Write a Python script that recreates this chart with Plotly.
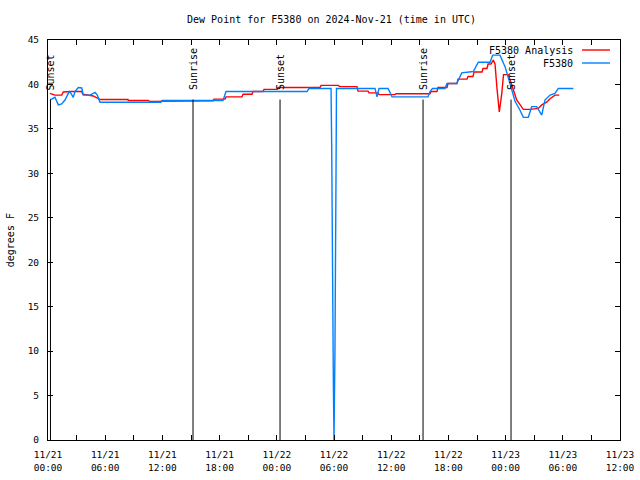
import plotly.graph_objects as go
import pandas as pd

BASE = pd.Timestamp("2024-11-21 00:00")

# Observations (F5380) : hours after 11/21 00:00 UTC, dew point degF
obs_hours = [0.2, 0.3, 0.73, 1.08, 1.44, 1.78, 2.23, 2.41, 2.65, 2.83,
             3.18, 3.54, 3.70, 4.41, 4.93, 5.17, 5.45, 11.85, 11.96, 18.36,
             18.67, 27.17, 27.38, 29.69, 29.76, 29.82, 29.93, 30.0, 30.1, 30.21,
             30.26, 34.3, 34.51, 34.72, 35.67, 36.09, 39.86, 40.07, 40.33, 41.64,
             41.85, 42.87, 43.4, 44.61, 45.14, 46.37, 46.65, 47.41, 47.94, 48.46,
             48.99, 49.51, 49.86, 50.38, 50.74, 51.26, 51.79, 52.13, 52.66, 53.18,
             53.53, 55.1]
obs_vals = [38.3, 38.3, 38.55, 37.7, 37.8, 38.25, 39.2, 39.0, 38.55, 39.2,
            39.65, 39.6, 38.8, 38.8, 39.1, 38.8, 38.0, 38.0, 38.2, 38.2,
            39.2, 39.2, 39.55, 39.55, 33.0, 19.9, 6.75, 0.0, 9.9, 29.6,
            39.55, 39.55, 38.6, 39.55, 39.55, 38.6, 38.6, 39.2, 39.55, 39.55,
            40.1, 40.1, 41.3, 41.45, 42.5, 42.5, 43.3, 43.3, 42.0, 40.1,
            38.1, 37.1, 36.3, 36.3, 37.5, 37.5, 36.55, 38.25, 38.8, 39.0,
            39.55, 39.55]

# Analysis (F5380 Analysis)
ana_hours = [0.2, 0.42, 0.73, 1.44, 1.6, 2.49, 3.54, 3.64, 4.41, 4.75,
             5.45, 8.39, 8.42, 10.49, 10.7, 14.48, 14.58, 17.31, 17.41, 18.57,
             18.67, 20.35, 20.46, 21.4, 21.5, 22.55, 22.66, 24.02, 24.13, 28.53,
             28.64, 30.42, 30.63, 32.41, 32.52, 33.57, 33.67, 34.62, 34.72, 36.4,
             36.5, 40.07, 40.18, 40.8, 40.91, 41.85, 41.96, 42.9, 43.0, 43.95,
             44.06, 44.58, 44.69, 45.53, 45.63, 46.05, 46.16, 46.47, 46.71, 46.89,
             47.1, 47.34, 47.6, 47.78, 48.29, 48.46, 48.81, 49.16, 49.86, 50.56,
             51.43, 51.79, 52.31, 52.66, 53.18, 53.63]
ana_vals = [39.0, 38.9, 38.8, 38.8, 39.15, 39.2, 39.2, 38.9, 38.8, 38.7,
            38.3, 38.3, 38.2, 38.2, 38.1, 38.1, 38.15, 38.15, 38.35, 38.35,
            38.6, 38.6, 38.9, 38.9, 39.2, 39.2, 39.45, 39.45, 39.65, 39.65,
            39.9, 39.9, 39.75, 39.75, 39.25, 39.25, 39.05, 39.05, 38.85, 38.85,
            38.95, 38.95, 39.2, 39.2, 39.65, 39.65, 40.1, 40.1, 40.6, 40.6,
            40.9, 40.9, 41.4, 41.4, 41.8, 41.8, 42.3, 42.3, 42.75, 42.3,
            39.5, 36.9, 39.0, 41.1, 41.1, 40.6, 39.4, 38.25, 37.2, 37.2,
            37.3, 37.7, 38.0, 38.4, 38.8, 38.8]

# Sun events
event_hours = [0.26, 15.21, 24.34, 39.34, 48.57]
event_labels = ["Sunset", "Sunrise", "Sunset", "Sunrise", "Sunset"]
event_line_top = 38.3

# Axis ticks
tick_hours = list(range(0, 61, 3))
tick_labels = []
for h in tick_hours:
    if h % 6 == 0:
        t = BASE + pd.Timedelta(hours=h)
        tick_labels.append(t.strftime("%m/%d") + "<br>" + t.strftime("%H:%M"))
    else:
        tick_labels.append("")
y_ticks = list(range(0, 46, 5))

series_names = ["F5380 Analysis", "F5380"]
series_colors = ["#ff0000", "#0080ff"]


def to_time(hours):
    return [BASE + pd.Timedelta(hours=h) for h in hours]


FONT = "DejaVu Sans Mono"

fig = go.Figure()
fig.add_trace(go.Scatter(x=to_time(ana_hours), y=ana_vals, mode="lines",
                         line=dict(color=series_colors[0], width=1.4),
                         name=series_names[0], showlegend=False))
fig.add_trace(go.Scatter(x=to_time(obs_hours), y=obs_vals, mode="lines",
                         line=dict(color=series_colors[1], width=1.4),
                         name=series_names[1], showlegend=False))

shapes = []
annotations = []
for h, lab in zip(event_hours, event_labels):
    t = BASE + pd.Timedelta(hours=h)
    shapes.append(dict(type="line", xref="x", yref="y", x0=t, x1=t,
                       y0=0, y1=event_line_top,
                       line=dict(color="black", width=1)))
    annotations.append(dict(x=t, y=39.15, xref="x", yref="y", text=lab,
                            textangle=-90, showarrow=False,
                            xanchor="center", yanchor="bottom",
                            font=dict(family=FONT, size=10, color="black")))

# manual gnuplot-style legend
leg_y = [0.975, 0.9425]
for name, col, yy in zip(series_names, series_colors, leg_y):
    annotations.append(dict(x=0.921, y=yy, xref="paper", yref="paper",
                            text=name, showarrow=False, xanchor="right",
                            yanchor="middle",
                            font=dict(family=FONT, size=10, color="black")))
    shapes.append(dict(type="line", xref="paper", yref="paper",
                       x0=0.9336, x1=0.9825, y0=yy, y1=yy,
                       line=dict(color=col, width=1.4)))

annotations.append(dict(x=-0.066, y=0.5, xref="paper", yref="paper",
                        text="degrees F", textangle=-90, showarrow=False,
                        xanchor="center", yanchor="middle",
                        font=dict(family=FONT, size=10, color="black")))

fig.update_layout(
    width=640, height=480,
    margin=dict(l=48, r=20, t=40, b=40, autoexpand=False),
    paper_bgcolor="white", plot_bgcolor="white",
    title=dict(text="Dew Point for F5380 on 2024-Nov-21 (time in UTC)",
               x=0.518, xanchor="center", y=0.96, yanchor="middle",
               font=dict(family=FONT, size=10, color="black")),
    shapes=shapes, annotations=annotations,
    showlegend=False,
)
fig.update_xaxes(
    type="date", automargin=False,
    range=[BASE, BASE + pd.Timedelta(hours=60)],
    tickmode="array", tickvals=to_time(tick_hours), ticktext=tick_labels,
    ticks="inside", ticklen=5, tickcolor="black", tickwidth=1,
    showline=True, linecolor="black", linewidth=1, mirror="ticks",
    showgrid=False, zeroline=False,
    tickfont=dict(family=FONT, size=9.5, color="black"),
    ticklabelstandoff=6,
)
fig.update_yaxes(
    automargin=False,
    range=[0, 45],
    tickmode="array", tickvals=y_ticks,
    ticks="inside", ticklen=5, tickcolor="black", tickwidth=1,
    showline=True, linecolor="black", linewidth=1, mirror="ticks",
    showgrid=False, zeroline=False,
    tickfont=dict(family=FONT, size=9.5, color="black"),
    ticklabelstandoff=6,
)

fig.write_html("out.html")
